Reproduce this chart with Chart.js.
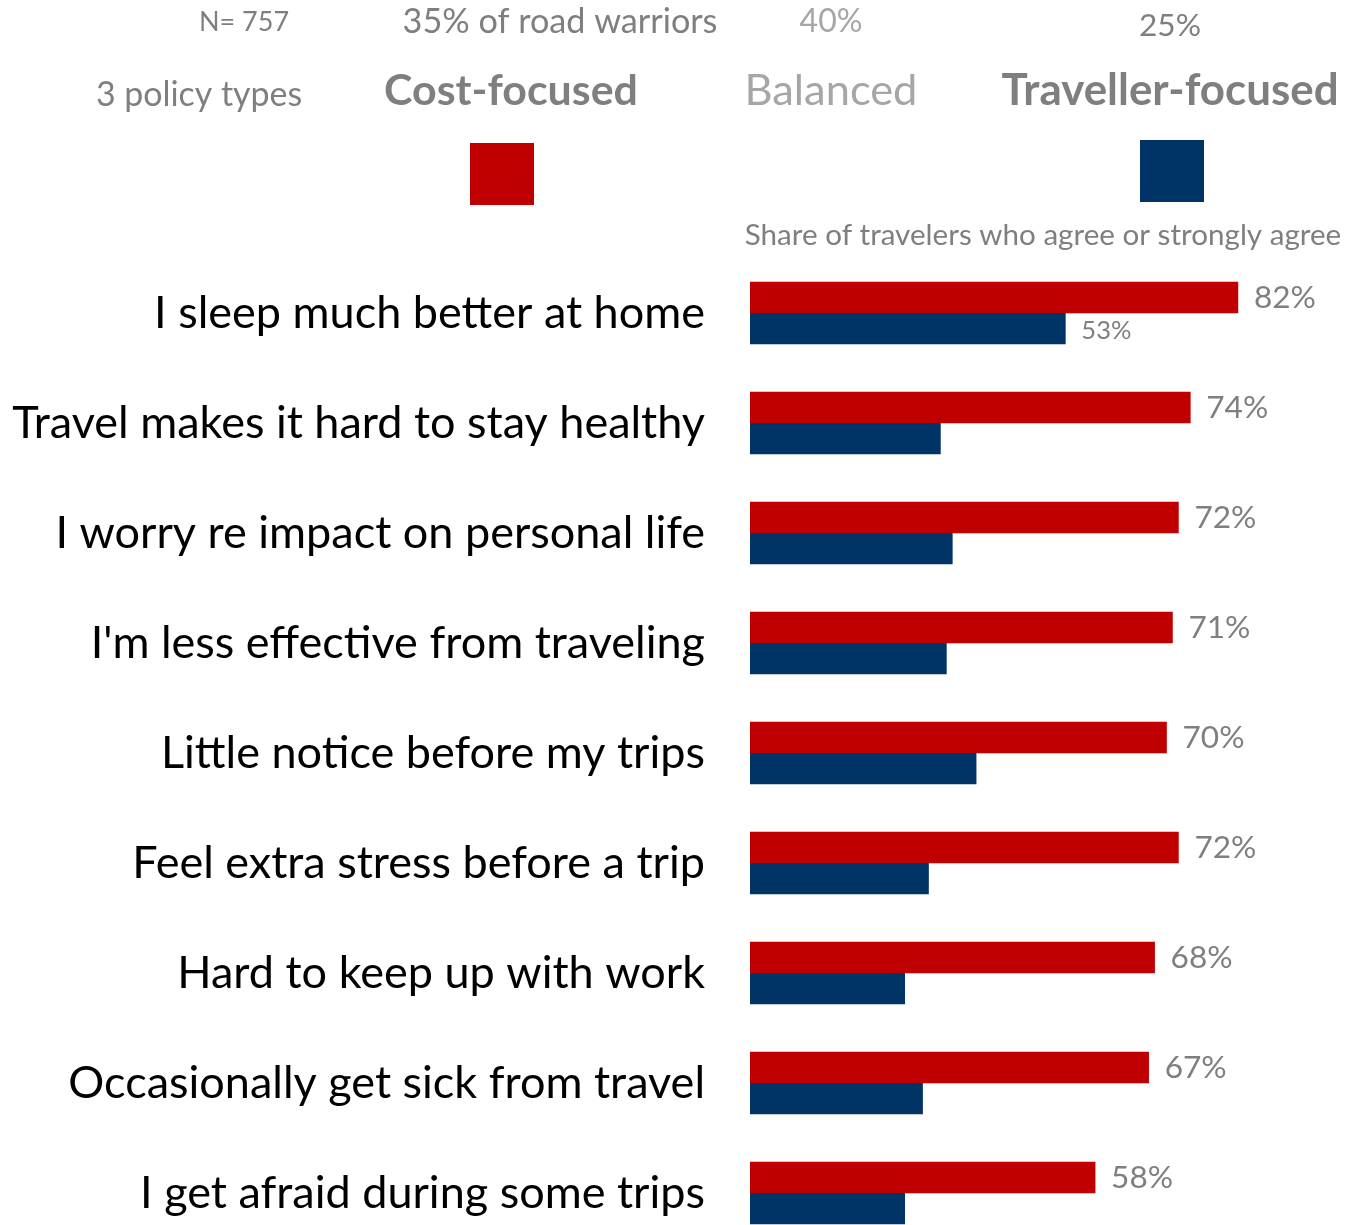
<!DOCTYPE html>
<html>
<head>
<meta charset="utf-8">
<title>Road warriors by travel policy type</title>
<script src="https://cdn.jsdelivr.net/npm/chart.js@4.4.1/dist/chart.umd.min.js"></script>
<style>
  html, body { margin: 0; padding: 0; background: #ffffff; overflow: hidden; }
  #wrap { position: relative; width: 1363px; height: 1225px; }
</style>
</head>
<body>
<div id="wrap"><canvas id="chart" width="1363" height="1225"></canvas></div>
<script>
// Statements shown on the category axis, top to bottom
const categories = [
  "I sleep much better at home",
  "Travel makes it hard to stay healthy",
  "I worry re impact on personal life",
  "I'm less effective from traveling",
  "Little notice before my trips",
  "Feel extra stress before a trip",
  "Hard to keep up with work",
  "Occasionally get sick from travel",
  "I get afraid during some trips"
];

// Share of travelers who agree or strongly agree (%)
const costFocused      = [82, 74, 72, 71, 70, 72, 68, 67, 58];
const travellerFocused = [53, 32, 34, 33, 38, 30, 26, 29, 26];

// Header texts
const sampleNote   = "N= 757";
const policyNote   = "3 policy types";
const policyTypes  = ["Cost-focused", "Balanced", "Traveller-focused"];
const policyShares = ["35% of road warriors", "40%", "25%"];
const valueTitle   = "Share of travelers who agree or strongly agree";

const RED = "#c00000";
const BLUE = "#003366";
const GREY = "#7f7f7f";
const LIGHT = "#a6a6a6";
const FONT = "Lato";

// Size a font so that a string spans a given width
const measureCtx = document.createElement("canvas").getContext("2d");
function fitSize(text, width, weight) {
  measureCtx.font = (weight || "normal") + " 100px " + FONT;
  return Math.round(1000 * width / measureCtx.measureText(text).width) / 10;
}

const labelSize = fitSize(categories[1], 693);
const redLabelSize = fitSize("82%", 62);
const blueLabelSize = fitSize("53%", 50);

// Header layout: centre x, baseline y, target width, colour, weight
const headerItems = [
  { text: sampleNote,      x: 244,  y: 31,  w: 90,  color: GREY,  weight: "normal" },
  { text: policyShares[0], x: 560,  y: 33,  w: 315, color: GREY,  weight: "normal" },
  { text: policyShares[1], x: 831,  y: 32,  w: 63,  color: LIGHT, weight: "normal" },
  { text: policyShares[2], x: 1170, y: 36,  w: 62,  color: GREY,  weight: "normal" },
  { text: policyNote,      x: 199,  y: 106, w: 206, color: GREY,  weight: "normal" },
  { text: policyTypes[0],  x: 511,  y: 105, w: 254, color: GREY,  weight: "bold" },
  { text: policyTypes[1],  x: 831,  y: 105, w: 173, color: LIGHT, weight: "normal" },
  { text: policyTypes[2],  x: 1170, y: 105, w: 337, color: GREY,  weight: "bold" },
  { text: valueTitle,      x: 1043, y: 245, w: 597, color: GREY,  weight: "normal" }
];

const headerPlugin = {
  id: "header",
  afterDraw(chart) {
    const ctx = chart.ctx;
    ctx.save();
    ctx.textAlign = "center";
    ctx.textBaseline = "alphabetic";
    headerItems.forEach(item => {
      const size = fitSize(item.text, item.w, item.weight);
      ctx.font = item.weight + " " + size + "px " + FONT;
      ctx.fillStyle = item.color;
      ctx.fillText(item.text, item.x, item.y);
    });
    // Legend swatches for the two plotted policy types
    ctx.fillStyle = chart.data.datasets[0].backgroundColor;
    ctx.fillRect(470, 143, 64, 62);
    ctx.fillStyle = chart.data.datasets[1].backgroundColor;
    ctx.fillRect(1140, 140, 64, 62);
    ctx.restore();
  }
};

// Statement labels, right-aligned left of the bars at each category position
const categoryLabelPlugin = {
  id: "categoryLabels",
  afterDraw(chart) {
    const ctx = chart.ctx;
    const y = chart.scales.y;
    ctx.save();
    ctx.textAlign = "right";
    ctx.textBaseline = "middle";
    ctx.fillStyle = "#000000";
    ctx.font = labelSize + "px " + FONT;
    categories.forEach((c, i) => {
      ctx.fillText(c, chart.chartArea.left - 45, y.getPixelForValue(i));
    });
    ctx.restore();
  }
};

// Percent labels at the end of the bars
const valueLabelPlugin = {
  id: "valueLabels",
  afterDatasetsDraw(chart) {
    const ctx = chart.ctx;
    ctx.save();
    ctx.textAlign = "left";
    ctx.textBaseline = "middle";
    ctx.fillStyle = GREY;
    chart.data.datasets.forEach((ds, di) => {
      const meta = chart.getDatasetMeta(di);
      meta.data.forEach((bar, i) => {
        if (di === 1 && i !== 0) return;
        const size = di === 0 ? redLabelSize : blueLabelSize;
        ctx.font = size + "px " + FONT;
        const v = ds.data[i].x;
        ctx.fillText(v + "%", bar.x + 16, bar.y + (di === 0 ? 0 : 2));
      });
    });
    ctx.restore();
  }
};

const toPoints = arr => arr.map((v, i) => ({ x: v, y: i }));

new Chart(document.getElementById("chart"), {
  type: "bar",
  data: {
    datasets: [
      { label: policyTypes[0], data: toPoints(costFocused), backgroundColor: RED,
        borderWidth: 0, barThickness: 31 },
      { label: policyTypes[2], data: toPoints(travellerFocused), backgroundColor: BLUE,
        borderWidth: 0, barThickness: 31 }
    ]
  },
  options: {
    indexAxis: "y",
    responsive: false,
    animation: false,
    devicePixelRatio: 1,
    layout: { padding: { top: 258, right: 18, bottom: 0, left: 750 } },
    plugins: { legend: { display: false }, tooltip: { enabled: false } },
    scales: {
      x: { type: "linear", min: 0, max: 100, display: false },
      y: { type: "linear", reverse: true, offset: false, min: -0.5, max: 8.291, display: false }
    }
  },
  plugins: [headerPlugin, categoryLabelPlugin, valueLabelPlugin]
});
</script>
</body>
</html>
